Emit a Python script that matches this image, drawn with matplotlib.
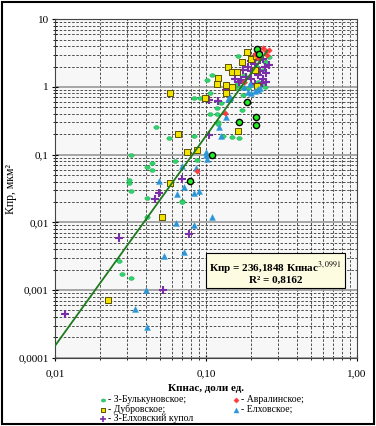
import numpy as np
import matplotlib
matplotlib.use("Agg")
import matplotlib.pyplot as plt
from matplotlib.path import Path
from matplotlib.patches import Rectangle
from matplotlib.ticker import FixedLocator, LogLocator, NullFormatter

plt.rcParams["font.family"] = ["Liberation Serif", "DejaVu Serif"]
plt.rcParams["mathtext.fontset"] = "stix"

# --- data (Кпнас, Кпр) ---
bulk_x = [0.032, 0.047, 0.041, 0.044, 0.044, 0.031, 0.031, 0.032, 0.041, 0.057,
          0.062, 0.070, 0.084, 0.087, 0.084, 0.091, 0.101, 0.109, 0.106, 0.106,
          0.118, 0.118, 0.126, 0.120, 0.120, 0.130, 0.148, 0.165, 0.173, 0.163,
          0.175, 0.218, 0.245, 0.240, 0.144, 0.168, 0.041, 0.070, 0.0265, 0.0278,
          0.032, 0.18, 0.20, 0.17, 0.22, 0.25, 0.24, 0.19, 0.16, 0.23,
          0.21, 0.26, 0.18, 0.155, 0.245]
bulk_y = [0.10, 0.255, 0.066, 0.075, 0.060, 0.038, 0.042, 0.029, 0.023, 0.176,
          0.080, 0.021, 0.19, 0.083, 0.68, 0.69, 1.26, 1.49, 0.81, 0.40,
          0.40, 0.48, 0.57, 0.30, 0.28, 0.19, 0.18, 0.175, 0.45, 2.85,
          0.76, 1.97, 2.3, 1.13, 0.64, 1.26, 0.012, 0.020, 0.0027, 0.0017,
          0.0015, 1.5, 1.1, 1.0, 1.2, 2.3, 1.75, 0.95, 1.1, 3.0,
          2.6, 2.8, 1.2, 0.95, 1.0]

# larger black-edged circles (not in the legend)
ring_x = [0.218, 0.224, 0.187, 0.165, 0.214, 0.214, 0.109, 0.079]
ring_y = [3.6, 3.1, 0.60, 0.30, 0.36, 0.27, 0.10, 0.041]

avr_x = [0.24, 0.25, 0.21, 0.23, 0.26, 0.22, 0.18, 0.133, 0.087, 0.255]
avr_y = [3.7, 3.4, 3.1, 3.3, 3.5, 2.7, 1.2, 0.41, 0.058, 3.0]

dubr_x = [0.058, 0.065, 0.075, 0.087, 0.058, 0.051, 0.0224, 0.098, 0.120, 0.118,
          0.137, 0.135, 0.141, 0.148, 0.160, 0.187, 0.173, 0.200, 0.215, 0.211,
          0.163, 0.218, 0.148]
dubr_y = [0.81, 0.20, 0.11, 0.117, 0.038, 0.012, 0.00072, 0.69, 1.35, 1.10,
          1.07, 0.81, 2.0, 1.65, 1.65, 3.3, 2.3, 2.6, 2.9, 1.8,
          0.22, 1.03, 0.99]

elh_x = [0.049, 0.064, 0.069, 0.072, 0.084, 0.090, 0.086, 0.100, 0.101, 0.100,
         0.109, 0.063, 0.083, 0.072, 0.053, 0.040, 0.034, 0.041, 0.126, 0.135,
         0.122, 0.140, 0.145, 0.190, 0.218, 0.195, 0.21, 0.22, 0.18, 0.23, 0.20]
elh_y = [0.041, 0.026, 0.068, 0.033, 0.027, 0.029, 0.063, 0.11, 0.086, 0.10,
         0.012, 0.0098, 0.0091, 0.0037, 0.0032, 0.0010, 0.00052, 0.00029, 0.19, 0.36,
         0.26, 0.66, 0.72, 0.84, 0.90, 1.10, 0.88, 0.92, 1.0, 0.95, 0.80]

kup_x = [0.105, 0.120, 0.105, 0.069, 0.049, 0.046, 0.0265, 0.077, 0.052, 0.0116,
         0.137, 0.175, 0.19, 0.20, 0.21, 0.22, 0.23, 0.24, 0.25, 0.245,
         0.20, 0.185, 0.17, 0.215, 0.23, 0.25, 0.26, 0.225, 0.24, 0.155,
         0.165, 0.20, 0.235, 0.21]
kup_y = [0.64, 0.62, 0.195, 0.044, 0.027, 0.022, 0.0059, 0.0068, 0.0010, 0.00045,
         0.90, 1.8, 2.0, 1.7, 2.2, 1.5, 2.5, 1.3, 1.2, 2.0,
         1.3, 1.4, 1.25, 1.9, 1.7, 1.6, 2.1, 2.8, 2.6, 1.3,
         1.2, 2.4, 1.15, 1.1]

coef, power, r2 = 236.1848, 3.0991, 0.8162
fit_range = [0.01, 0.255]

labels = ["- З-Булькуновское;", "- Авралинское;", "- Дубровское;",
          "- Елховское;", "- З-Елховский купол"]

# horizontal ellipse marker for the green series
t = np.linspace(0, 2 * np.pi, 40)
ellipse = Path(np.column_stack([1.4 * np.cos(t), np.sin(t)]))

GREEN, RED, YELLOW, BLUE, PURPLE = "#2ed46a", "#ff3b3b", "#f2e200", "#2a96d8", "#7a2fa8"

fig = plt.figure(figsize=(3.76, 4.26), dpi=100)
ax = fig.add_axes([0.146, 0.160, 0.803, 0.795])
ax.set_facecolor("#f7f7f7")

xf = np.logspace(np.log10(fit_range[0]), np.log10(fit_range[1]), 100)
ax.plot(xf, coef * xf ** power, color="#1e7a1e", lw=1.3, zorder=5)

ax.scatter(bulk_x, bulk_y, marker=ellipse, s=15, c=GREEN, edgecolors="#1aa34f",
           linewidths=0.3, zorder=3)
ax.scatter(kup_x, kup_y, marker="+", s=26, c=PURPLE, linewidths=1.5, zorder=3)
ax.scatter(dubr_x, dubr_y, marker="s", s=15, c=YELLOW, edgecolors="#5a5200",
           linewidths=0.7, zorder=3)
ax.scatter(elh_x, elh_y, marker="^", s=18, c=BLUE, edgecolors=BLUE,
           linewidths=0.3, zorder=3)
ax.scatter(avr_x, avr_y, marker="D", s=8, c=RED, edgecolors=RED,
           linewidths=0.3, zorder=3)
ax.scatter(ring_x, ring_y, marker="o", s=20, c="#22ee22", edgecolors="black",
           linewidths=1.0, zorder=4)

ax.set_xscale("log")
ax.set_yscale("log")
ax.set_xlim(0.01, 1.0)
ax.set_ylim(0.0001, 10)

ax.xaxis.set_major_locator(FixedLocator([0.01, 0.1, 1.0]))
ax.set_xticklabels(["0,01", "0,10", "1,00"])
ax.yaxis.set_major_locator(FixedLocator([0.0001, 0.001, 0.01, 0.1, 1, 10]))
ax.set_yticklabels(["0,0001", "0,001", "0,01", "0,1", "1", "10"])
ax.xaxis.set_minor_locator(LogLocator(base=10, subs=np.arange(2, 10)))
ax.yaxis.set_minor_locator(LogLocator(base=10, subs=np.arange(2, 10)))
ax.xaxis.set_minor_formatter(NullFormatter())
ax.yaxis.set_minor_formatter(NullFormatter())
ax.tick_params(which="both", direction="inout", labelsize=8)
ax.tick_params(which="major", length=5)
ax.tick_params(which="minor", length=3)
ax.tick_params(axis="x", which="major", pad=6)
ax.tick_params(axis="y", which="major", pad=2)

ax.grid(True, axis="y", which="major", color="#999999", lw=1.2, ls="-")
ax.grid(True, axis="x", which="major", color="#333333", lw=0.6, ls=(0, (3, 2)))
ax.grid(True, which="minor", color="#333333", lw=0.6, ls=(0, (3, 2)))
ax.set_axisbelow(True)
for s in ax.spines.values():
    s.set_color("#444444")

ax.set_xlabel("Кпнас, доли ед.", fontsize=8, fontweight="bold", labelpad=4)
ax.set_ylabel("Кпр, мкм²", fontsize=8.5, labelpad=1)

ax.text(0.73, 0.254,
        f"Кпр = {coef:.4f} Кпнас$^{{{power:.4f}}}$\nR² = {r2:.4f}".replace(".", ","),
        transform=ax.transAxes, ha="center", va="center", fontsize=8,
        fontweight="bold", linespacing=1.0, zorder=6,
        bbox=dict(boxstyle="square,pad=0.3", fc="#fdfbe0", ec="black", lw=0.8))

# legend drawn by hand in two columns below the axes
handles = [
    dict(marker=ellipse, c=GREEN, ec="#1aa34f", s=10, lw=0.3),
    dict(marker="D", c=RED, ec=RED, s=7, lw=0.3),
    dict(marker="s", c=YELLOW, ec="#5a5200", s=11, lw=0.7),
    dict(marker="^", c=BLUE, ec=BLUE, s=13, lw=0.3),
    dict(marker="+", c=PURPLE, ec=None, s=14, lw=1.2),
]
pos = [(103, 400), (236, 400), (103, 409.5), (236, 409.5), (103, 418.5)]
for (px, py), h, lab in zip(pos, handles, labels):
    fx, fy = px / 376, 1 - py / 426
    fig.text(fx + 5 / 376, fy, lab, fontsize=7, va="center", ha="left")
    axm = fig.add_axes([fx - 4 / 376, fy - 4 / 426, 8 / 376, 8 / 426])
    axm.axis("off")
    axm.set_xlim(-1, 1)
    axm.set_ylim(-1, 1)
    kw = dict(marker=h["marker"], c=h["c"], s=h["s"], linewidths=h["lw"])
    if h["ec"] is not None:
        kw["edgecolors"] = h["ec"]
    axm.scatter([0], [0], **kw)

fig.add_artist(Rectangle((0.004, 0.004), 0.992, 0.992, transform=fig.transFigure,
                         fill=False, ec="black", lw=1.5))

fig.savefig("out.png", dpi=100)
